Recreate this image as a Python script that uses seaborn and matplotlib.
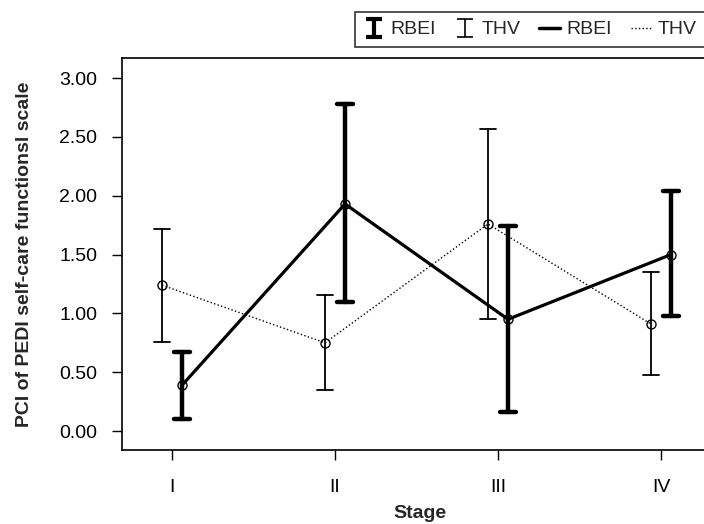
import pandas as pd
import matplotlib
matplotlib.use("Agg")
import matplotlib.pyplot as plt
from matplotlib.path import Path
from matplotlib.lines import Line2D
import seaborn as sns

# chart values
stages = ["I", "II", "III", "IV"]
groups = ["THV", "RBEI"]
thv_mean = [1.24, 0.75, 1.76, 0.91]
thv_low = [0.76, 0.35, 0.95, 0.48]
thv_high = [1.72, 1.16, 2.57, 1.35]
rbei_mean = [0.39, 1.93, 0.95, 1.50]
rbei_low = [0.10, 1.10, 0.16, 0.98]
rbei_high = [0.67, 2.78, 1.74, 2.04]
y_ticks = [0.0, 0.5, 1.0, 1.5, 2.0, 2.5, 3.0]

sns.set_theme(style="ticks")
plt.rcParams["font.family"] = ["Liberation Sans", "DejaVu Sans"]

# three rows per point: low / mean / high -> median + 100% interval gives the bars
rows = []
for g, lo, mid, hi in [("THV", thv_low, thv_mean, thv_high),
                       ("RBEI", rbei_low, rbei_mean, rbei_high)]:
    for s, a, b, c in zip(stages, lo, mid, hi):
        for v in (a, b, c):
            rows.append({"Stage": s, "Group": g, "value": v})
df = pd.DataFrame(rows)

fig = plt.figure(figsize=(7.04, 5.24), dpi=100)
ax = fig.add_axes([0.1733, 0.1412, 0.8466, 0.748])

styles = {
    "THV": dict(ls=":", lw=1.0, elw=1.3),
    "RBEI": dict(ls="-", lw=2.3, elw=3.2),
}
for g in groups:
    st = styles[g]
    sns.pointplot(
        data=df[df["Group"] == g], x="Stage", y="value", hue="Group",
        hue_order=groups, order=stages, palette={k: "black" for k in groups},
        estimator="median", errorbar=("pi", 100), dodge=0.123,
        capsize=0.1, markers="o", linestyles=st["ls"], linewidth=st["lw"],
        err_kws={"linewidth": st["elw"]}, markersize=6.5,
        markerfacecolor="none", markeredgecolor="black", markeredgewidth=1.0,
        legend=False, ax=ax,
    )

ax.set_xlim(-0.307, 3.35)
ax.set_ylim(-0.161, 3.17)
ax.set_yticks(y_ticks)
ax.set_yticklabels([f"{t:.2f}" for t in y_ticks])
ax.tick_params(axis="both", direction="out", length=7, width=1.0,
               labelsize=14, color="black", labelcolor="black")
ax.tick_params(axis="x", pad=14)
ax.tick_params(axis="y", pad=11)
for sp in ax.spines.values():
    sp.set_color("black")
    sp.set_linewidth(1.2)

ax.set_xlabel("Stage", fontsize=14, fontweight="bold", labelpad=6)
ax.set_ylabel("PCI of PEDI self-care functionsl scale", fontsize=14,
              fontweight="bold", labelpad=19)

# legend with error-bar glyphs and line samples
ibar = Path([(-0.85, 1), (0.85, 1), (0, 1), (0, -1), (-0.85, -1), (0.85, -1)],
            [Path.MOVETO, Path.LINETO, Path.MOVETO, Path.LINETO,
             Path.MOVETO, Path.LINETO])
handles = [
    Line2D([], [], marker=ibar, linestyle="none", markersize=13,
           markeredgewidth=3.0, color="black"),
    Line2D([], [], marker=ibar, linestyle="none", markersize=13,
           markeredgewidth=1.2, color="black"),
    Line2D([], [], linestyle="-", linewidth=2.5, color="black"),
    Line2D([], [], linestyle=":", linewidth=1.0, color="black"),
]
leg = fig.legend(handles, ["RBEI", "THV", "RBEI", "THV"], ncol=4,
                 loc="upper left", bbox_to_anchor=(0.504, 0.977),
                 bbox_transform=fig.transFigure, borderaxespad=0,
                 frameon=True, fancybox=False, fontsize=14,
                 handlelength=1.05, handletextpad=0.35, columnspacing=0.95,
                 borderpad=0.45)
leg.get_frame().set_edgecolor("black")
leg.get_frame().set_linewidth(1.2)

fig.savefig("out.png", dpi=100)
